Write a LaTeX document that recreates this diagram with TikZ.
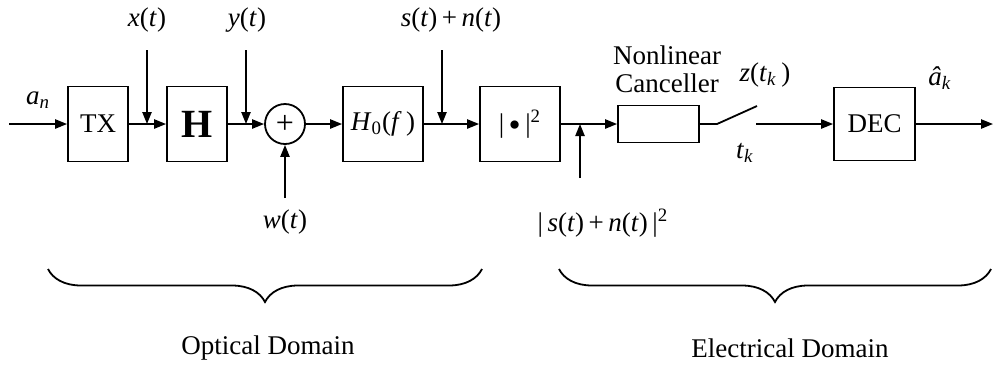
\documentclass[tikz,border=0pt]{standalone}
\usepackage{fontspec}
\setmainfont{Liberation Serif}
\usepackage{tikz}
\usetikzlibrary{
  arrows.meta,
  decorations.pathreplacing
}
\tikzset{
  >={Triangle[length=6pt,width=4.6pt]},
  line join=round,
  every picture/.style={line width=0.9pt},
  blk/.style={draw, minimum width=30pt, minimum height=37.5pt, inner sep=1pt, align=center},
  sumnode/.style={draw, circle, minimum size=20pt, inner sep=0pt},
  arrow/.style={->},
  dombrace/.style={decorate, decoration={brace, mirror, amplitude=16.5pt}}
}

\begin{document}
\begin{tikzpicture}[x=0.5pt, y=-0.5pt, font=\fontsize{13.5}{14}\rmfamily\selectfont]
    \useasboundingbox (0,0) rectangle (995,366);
    % blocks on the main line
    \node[blk] (tx) at (98,124) {TX};
    \node[blk, font=\fontsize{20}{22}\selectfont\bfseries] (h) at (197,124) {H};
    \node[sumnode, font=\fontsize{16}{16}\selectfont] (sum) at (285,124) {+};
    \node[blk, minimum width=40pt] (hf) at (383,124) {\textit{H}\textsubscript{0}(\textit{f}\,)};
    \node[blk, minimum width=40pt] (sq) at (520,124) {|\,\raisebox{-0.3ex}{\LARGE\textbullet}\,|\textsuperscript{2}};
    \node[blk, minimum width=40.5pt, minimum height=18.5pt] (nlc) at (658.5,124) {};
    \node[blk, minimum width=40.5pt, minimum height=36.5pt] (dec) at (874.5,124) {DEC};
    % free ends and junctions
    \coordinate (in) at (9,124);
    \coordinate (out) at (993,124);
    \coordinate (xs) at (147,50);  \coordinate (xj) at (147,124);
    \coordinate (ys) at (246,50);  \coordinate (yj) at (246,124);
    \coordinate (ws) at (285,198);
    \coordinate (ns) at (442,50);  \coordinate (nj) at (442,124);
    \coordinate (ps) at (580,178); \coordinate (pj) at (580,124);
    \coordinate (sw1) at (717,124); \coordinate (sw2) at (757,106);
    \coordinate (sw3) at (756,124);
    % signal path
    \draw[arrow] (in) -- (tx);
    \draw[arrow] (tx) -- (h);
    \draw[arrow] (h) -- (sum);
    \draw[arrow] (sum) -- (hf);
    \draw[arrow] (hf) -- (sq);
    \draw[arrow] (sq) -- (nlc);
    \draw (nlc) -- (sw1) -- (sw2);
    \draw[arrow] (sw3) -- (dec);
    \draw[arrow] (dec) -- (out);
    % injected signals
    \draw[arrow] (xs) -- (xj);
    \draw[arrow] (ys) -- (yj);
    \draw[arrow] (ws) -- (sum);
    \draw[arrow] (ns) -- (nj);
    \draw[arrow] (ps) -- (pj);
    % labels
    \node (an) at (38,100) {\textit{a}\textsubscript{\textit{n}}};
    \node (xl) at (147,20) {\textit{x}(\textit{t})};
    \node (yl) at (247,20) {\textit{y}(\textit{t})};
    \node (wl) at (285,222) {\textit{w}(\textit{t})};
    \node (nl) at (451,20) {\textit{s}(\textit{t})\,+\,\textit{n}(\textit{t})};
    \node (pl) at (603,223) {|\,\textit{s}(\textit{t})\,+\,\textit{n}(\textit{t})\,|\textsuperscript{2}};
    \node (nlcl1) at (667,55) {Nonlinear};
    \node (nlcl2) at (667,83) {Canceller};
    \node (zl) at (765,75) {\textit{z}(\textit{t}\textsubscript{\textit{k}}\,)};
    \node (tl) at (745,153) {\textit{t}\textsubscript{\textit{k}}};
    \node (al) at (940,78) {\textit{\^a}\textsubscript{\textit{k}}};
    % domains
    \coordinate (ob1) at (48,269);  \coordinate (ob2) at (482,269);
    \coordinate (eb1) at (559,269); \coordinate (eb2) at (991,269);
    \draw[dombrace] (ob1) -- (ob2);
    \draw[dombrace] (eb1) -- (eb2);
    \node (opt) at (268,348) {Optical Domain};
    \node (ele) at (790,348) {Electrical Domain};
  \end{tikzpicture}
\end{document}
